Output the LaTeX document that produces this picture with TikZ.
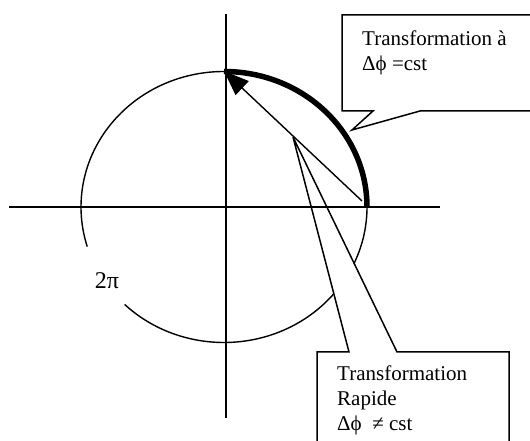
\documentclass[tikz,border=0pt]{standalone}
\usepackage{fontspec}
\setmainfont{Liberation Serif}
\usetikzlibrary{arrows.meta}

\begin{document}
\begin{tikzpicture}[
  x=1pt, y=1pt,
  font=\fontsize{21}{25}\selectfont,
  axis/.style={line width=1.5pt},
  circ/.style={line width=1.4pt},
  bulle/.style={draw, line width=1.5pt, fill=white, line join=miter},
  txt/.style={anchor=north west, inner sep=0pt, align=left},
  arr/.style={-{Triangle[length=25pt,width=19pt]}, line width=1.4pt}
]
\clip (0,0) rectangle (530,441);

% cercle (ouvert pres de 2pi)
\coordinate (O) at (224,234);
\draw[circ] (O) ++(226:143 and 135.5)
  arc[start angle=226, end angle=557, x radius=143, y radius=135.5];

% bulle du bas
\draw[bulle] (317,-10) -- (317,89) -- (349,89) -- (293,304) -- (397,89)
  -- (509,89) -- (509,-10) -- cycle;

% axes
\coordinate (xg) at (9,234);
\coordinate (xd) at (440,234);
\coordinate (yb) at (226,23);
\coordinate (yh) at (226,427);
\draw[axis] (xg) -- (xd);
\draw[axis] (yb) -- (yh);

% arc epais et fleche
\draw[line width=5.5pt] (O) ++(90:143 and 135.5)
  arc[start angle=90, end angle=0, x radius=143, y radius=135.5];
\coordinate (pA) at (362,240);
\coordinate (pB) at (224,370);
\draw[arr] (pA) -- (pB);

% bulle du haut
\draw[bulle] (342,426) -- (540,426) -- (540,330) -- (420,330) -- (352,311)
  -- (373,330) -- (342,330) -- cycle;

\node[txt] (cst) at (362,410) {Transformation à\\Δϕ =cst};
\node[txt] (rapide) at (337,75) {Transformation\\Rapide\\Δϕ \ ≠ cst};
\node (deuxpi) at (107,160) {\fontsize{24}{28}\selectfont 2π};
\end{tikzpicture}
\end{document}
